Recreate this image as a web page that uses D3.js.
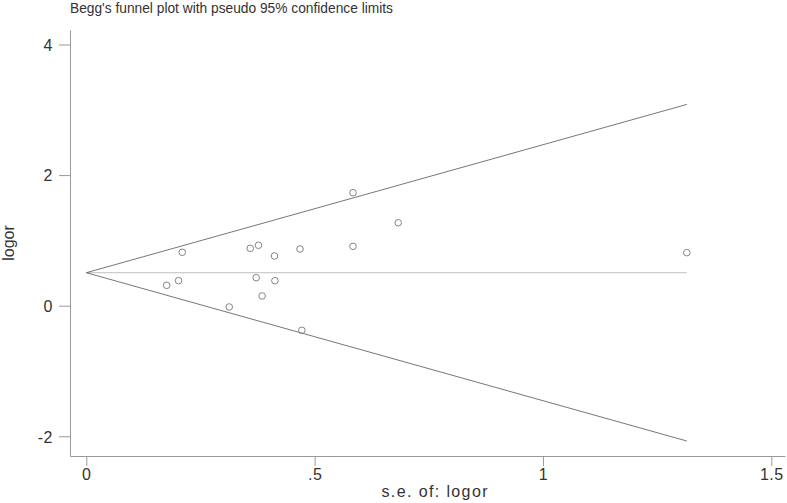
<!DOCTYPE html>
<html><head><meta charset="utf-8">
<script src="https://cdn.jsdelivr.net/npm/d3@7"></script>
<style>body{margin:0;background:#fff}text{font-family:"Liberation Sans",Arial,sans-serif}</style>
</head><body>
<svg id="c" width="787" height="503"></svg>
<script>
const se    = [0.584,0.683,0.210,0.359,0.377,0.412,0.468,0.584,0.176,0.202,0.372,0.413,0.385,0.313,0.472,1.315];
const logor = [1.73,1.27,0.818,0.879,0.925,0.761,0.868,0.909,0.312,0.383,0.429,0.383,0.149,-0.02,-0.377,0.812];
const pooled = 0.505;
const seMax = 1.315;
const xTicks = [0,0.5,1,1.5];
const xTickLabels = ["0",".5","1","1.5"];
const yTicks = [-2,0,2,4];
const yTickLabels = ["-2","0","2","4"];
const title = "Begg's funnel plot with pseudo 95% confidence limits";

const svg = d3.select("#c");
const L=70, R=785, T=30, B=456;
const x = d3.scaleLinear().domain([-0.0357,1.530]).range([L,R]);
const y = d3.scaleLinear().domain([-2.302,4.222]).range([B,T]);

const xa = svg.append("g").attr("transform",`translate(0,${B})`)
  .call(d3.axisBottom(x).tickValues(xTicks).tickFormat((d,i)=>xTickLabels[i]).tickSize(10).tickPadding(3).tickSizeOuter(0));
const ya = svg.append("g").attr("transform",`translate(${L},0)`)
  .call(d3.axisLeft(y).tickValues(yTicks).tickFormat((d,i)=>yTickLabels[i]).tickSize(11).tickPadding(6).tickSizeOuter(0));
[xa,ya].forEach(a=>{
  a.select(".domain").attr("stroke","#999");
  a.selectAll(".tick line").attr("stroke","#999");
  a.selectAll(".tick text").attr("fill","#333").style("font-size","16px").style("letter-spacing","0.5px");
});
ya.selectAll(".tick text").attr("dy","0.36em");

svg.append("line").attr("x1",x(0)).attr("x2",x(seMax)).attr("y1",y(pooled)).attr("y2",y(pooled))
  .attr("stroke","#ccc").attr("stroke-width",1.3);
const lim = s=>[[0,pooled],[seMax,pooled+s*1.96*seMax]];
[1,-1].forEach(s=>{
  svg.append("path").attr("d",d3.line().x(d=>x(d[0])).y(d=>y(d[1]))(lim(s)))
    .attr("fill","none").attr("stroke","#666").attr("stroke-width",0.9);
});
svg.append("g").selectAll("circle").data(se.map((s,i)=>[s,logor[i]])).join("circle")
  .attr("cx",d=>x(d[0])).attr("cy",d=>y(d[1])).attr("r",3.3)
  .attr("fill","none").attr("stroke","#777").attr("stroke-width",0.9);

svg.append("text").attr("x",L).attr("y",13).attr("fill","#333").style("font-size","15px")
  .attr("textLength",323).attr("lengthAdjust","spacingAndGlyphs").text(title);
svg.append("text").attr("x",(L+R)/2+7).attr("y",497).attr("text-anchor","middle").attr("fill","#333").style("font-size","16px")
  .attr("textLength",106).attr("lengthAdjust","spacing").text("s.e. of: logor");
svg.append("text").attr("transform",`translate(14,${(T+B)/2}) rotate(-90)`).attr("text-anchor","middle").attr("fill","#333").style("font-size","16px").text("logor");
</script>
</body></html>
